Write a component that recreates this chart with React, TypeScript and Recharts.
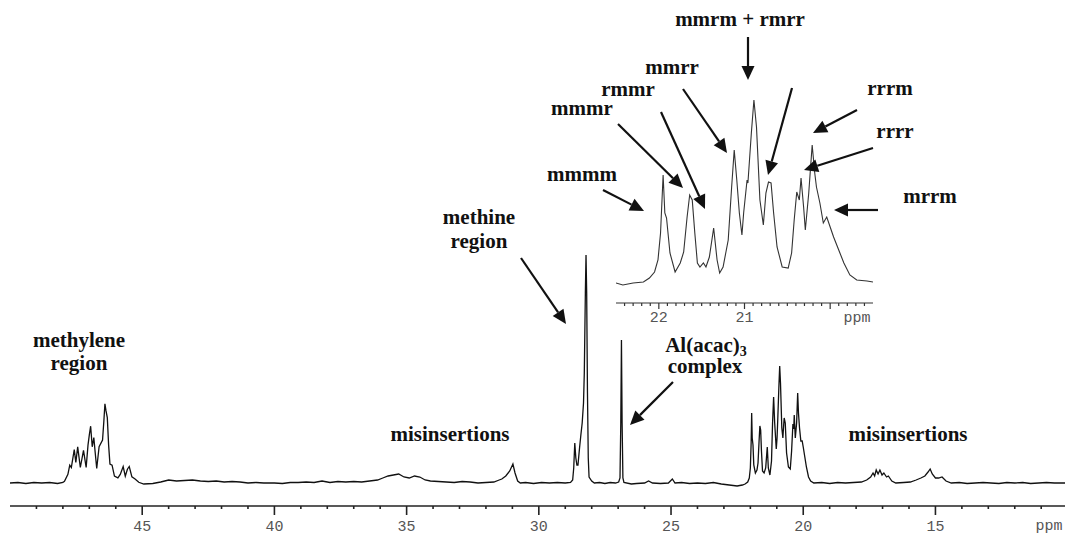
import React from "react"
import { LineChart, Line, XAxis, YAxis } from "recharts"

type Pt = [number, number]

// main spectrum, [ppm, intensity above baseline]
const baselineLeft: Pt[] = [
  [50.0, 0], [49.7, 0.5], [49.4, -0.5], [49.1, 0.5], [48.8, 0], [48.5, 0.5], [48.2, -0.5], [48.0, 0.5],
]
const methyleneRegion: Pt[] = [
  [47.94, 1.7], [47.81, 8.6], [47.74, 17.9], [47.68, 15.5], [47.57, 33.4], [47.51, 20.7], [47.44, 36.2],
  [47.34, 15.5], [47.22, 32.7], [47.12, 15.5], [47.05, 37.9], [47.0, 48.2], [46.95, 56.8], [46.89, 36.2],
  [46.83, 45.5], [46.78, 31], [46.72, 14.5], [46.63, 36.2], [46.5, 43], [46.45, 62], [46.41, 79.2],
  [46.37, 72.3], [46.32, 65.4], [46.27, 37.9], [46.22, 19], [46.14, 17.9], [46.05, 6.9], [45.92, 5.2],
  [45.83, 8.6], [45.72, 16.5], [45.64, 6.9], [45.56, 13.8], [45.49, 16.5], [45.39, 6.2], [45.27, 4.1],
  [45.13, 0.7], [44.94, -1],
]
const baselineMid: Pt[] = [
  [44.6, -0.5], [44.3, 1], [44.0, 3], [43.7, 2], [43.4, 2.5], [43.1, 3], [42.8, 2], [42.5, 1.5], [42.2, 2],
  [41.9, 1], [41.6, 1.5], [41.3, 1], [41.0, 0], [40.7, 0.5], [40.4, 0], [40.0, 0], [39.7, -0.5], [39.4, 0.5],
  [39.1, 0.5], [38.8, 1], [38.5, 0.5], [38.2, 2], [37.9, 0.5], [37.6, 1.5], [37.3, 1], [37.0, 1.5], [36.7, 1],
  [36.4, 2], [36.1, 3], [35.9, 5], [35.7, 7], [35.5, 8], [35.3, 9], [35.1, 6], [34.9, 5], [34.7, 7], [34.5, 6],
  [34.3, 3], [34.1, 2], [33.8, 1.5], [33.5, 1], [33.2, 0.5], [32.9, 1.5], [32.6, 1], [32.3, 0], [32.0, 0.5],
  [31.7, 1], [31.5, 3],
]
const misinsertionsLeft: Pt[] = [
  [31.4, 4], [31.25, 7], [31.1, 12], [30.98, 19], [30.9, 10], [30.8, 2], [30.7, 0], [30.5, 0.5], [30.2, -0.5],
  [29.9, 0.5], [29.6, 0], [29.3, 0.5], [29.0, 0], [28.8, 0.5],
]
const methineRegion: Pt[] = [
  [28.72, 3], [28.68, 15], [28.64, 40], [28.6, 25], [28.56, 18], [28.52, 18], [28.46, 35], [28.41, 48],
  [28.36, 60], [28.31, 80], [28.28, 110], [28.24, 190], [28.215, 228], [28.19, 190], [28.16, 90], [28.13, 25],
  [28.1, 6], [28.0, 2], [27.9, 0], [27.7, 0.5], [27.5, -0.5], [27.3, 0.5], [27.1, 0], [26.98, 1],
]
const alAcacPeak: Pt[] = [
  [26.93, 5], [26.9, 60], [26.875, 143], [26.85, 60], [26.82, 5], [26.78, 0.5], [26.5, -1], [26.3, -0.5],
  [26.0, 0], [25.85, 2], [25.7, 0], [25.4, -0.5], [25.1, 0], [24.95, 4], [24.85, 0], [24.6, 0.5], [24.3, -0.5],
  [24.0, 0], [23.7, -0.5], [23.4, 0.5], [23.1, -1], [22.8, -2], [22.5, -3], [22.3, -2],
]
const methylRegion: Pt[] = [
  [22.2, -1], [22.1, 1], [22.04, 5], [22.0, 15], [21.97, 40], [21.95, 70], [21.93, 45], [21.9, 38], [21.87, 18],
  [21.81, 10], [21.75, 13], [21.71, 20], [21.67, 42], [21.64, 57], [21.61, 53], [21.58, 32], [21.54, 12],
  [21.48, 10], [21.42, 15], [21.36, 36], [21.32, 15], [21.26, 8], [21.2, 22], [21.16, 60], [21.12, 86],
  [21.08, 60], [21.02, 34], [20.99, 45], [20.96, 66], [20.92, 97], [20.89, 117], [20.86, 100], [20.81, 55],
  [20.77, 45], [20.74, 58], [20.72, 65], [20.68, 60], [20.63, 30], [20.56, 16], [20.49, 14], [20.44, 32],
  [20.39, 59], [20.36, 54], [20.34, 68], [20.3, 45], [20.25, 60], [20.21, 90], [20.18, 70], [20.14, 55],
  [20.09, 42], [20.04, 42], [20.0, 36], [19.94, 26], [19.88, 16], [19.8, 6], [19.72, 2], [19.6, 0],
]
const misinsertionsRight: Pt[] = [
  [19.3, 0.5], [19.0, -0.5], [18.7, 0.5], [18.4, 0], [18.1, 0.5], [17.8, 1], [17.6, 3], [17.45, 6],
  [17.36, 10], [17.3, 7], [17.24, 13], [17.17, 9], [17.1, 13], [17.02, 8], [16.95, 10], [16.85, 6],
  [16.78, 7], [16.65, 2], [16.5, 0], [16.2, 0.5], [15.95, 1], [15.73, 3], [15.55, 5], [15.4, 7], [15.28, 11],
  [15.2, 14], [15.12, 9], [15.0, 5], [14.88, 5], [14.75, 6], [14.6, 2], [14.4, 0],
]
const baselineRight: Pt[] = [
  [14.1, 0.5], [13.8, -0.5], [13.5, 0], [13.2, 0.5], [12.9, 0], [12.6, -0.5], [12.3, 0.5], [12.0, 0],
  [11.7, 0.5], [11.4, -0.5], [11.1, 0], [10.8, 0.5], [10.5, 0], [10.1, 0],
]

// inset: methyl pentads, expanded
const insetMethyl: Pt[] = [
  [22.5, 0], [22.42, -2], [22.3, 0], [22.18, 1], [22.11, 5], [22.05, 11], [22.01, 23], [21.98, 50],
  [21.95, 108], [21.93, 70], [21.91, 65], [21.87, 30], [21.81, 11], [21.75, 20], [21.71, 31], [21.67, 66],
  [21.64, 88], [21.61, 83], [21.58, 50], [21.55, 20], [21.52, 16], [21.48, 20], [21.45, 16], [21.41, 26],
  [21.36, 55], [21.32, 23], [21.29, 10], [21.25, 16], [21.19, 43], [21.15, 96], [21.12, 133], [21.09, 103],
  [21.06, 70], [21.03, 48], [21.01, 70], [20.97, 103], [20.96, 100], [20.92, 150], [20.89, 183], [20.86, 156],
  [20.82, 83], [20.78, 58], [20.75, 90], [20.72, 101], [20.69, 100], [20.66, 70], [20.62, 36], [20.56, 16],
  [20.49, 15], [20.45, 30], [20.42, 63], [20.39, 91], [20.36, 83], [20.34, 105], [20.31, 76], [20.29, 53],
  [20.25, 90], [20.21, 138], [20.18, 110], [20.16, 96], [20.12, 80], [20.08, 60], [20.04, 66], [20.0, 56],
  [19.96, 46], [19.9, 33], [19.84, 20], [19.77, 8], [19.69, 3], [19.57, 2], [19.5, 1],
]

const mainMajorTicks = [45, 40, 35, 30, 25, 20, 15]
const mainMinorTicks = [
  49, 48, 47, 46, 44, 43, 42, 41, 39, 38, 37, 36, 34, 33, 32, 31, 29, 28, 27, 26, 24, 23, 22, 21, 19, 18, 17, 16,
  14, 13, 12, 11,
]
const insetMajorTicks = [22, 21, 20]
const insetLabels = ["22", "21", ""]

const mainData = [
  ...baselineLeft, ...methyleneRegion, ...baselineMid, ...misinsertionsLeft, ...methineRegion,
  ...alAcacPeak, ...methylRegion, ...misinsertionsRight, ...baselineRight,
].map(([ppm, v]) => ({ ppm, v }))
const insetData = insetMethyl.map(([ppm, v]) => ({ ppm, v }))

const insetTicks: number[] = []
for (let i = 0; i < 29; i++) insetTicks.push(Math.round((19.6 + i * 0.1) * 10) / 10)

const tickFont = { fontFamily: "'Liberation Mono', 'DejaVu Sans Mono', monospace", fontSize: 15, fill: "#555" }
const labelFont = { fontFamily: "'Liberation Serif', 'Times New Roman', serif", fontSize: 21, fontWeight: 700, fill: "#111" }

const MainTick = (props: any) => {
  const { x, y, payload } = props
  const major = mainMajorTicks.includes(payload.value)
  return (
    <g>
      <line x1={x} x2={x} y1={y} y2={y + (major ? 9 : 3)} stroke="#222" strokeWidth={1.6} />
      {major && (
        <text x={x} y={y + 25} textAnchor="middle" {...tickFont}>
          {payload.value}
        </text>
      )}
    </g>
  )
}

const InsetTick = (props: any) => {
  const { x, y, payload } = props
  const idx = insetMajorTicks.findIndex((t) => Math.abs(t - payload.value) < 1e-6)
  return (
    <g>
      <line x1={x} x2={x} y1={y} y2={y + (idx >= 0 ? 6 : 3)} stroke="#333" strokeWidth={1.2} />
      {idx >= 0 && insetLabels[idx] && (
        <text x={x} y={y + 19} textAnchor="middle" {...tickFont}>
          {insetLabels[idx]}
        </text>
      )}
    </g>
  )
}

const arrows: [number, number, number, number][] = [
  [521, 258, 566, 324],
  [673, 382, 630, 425],
  [748, 37, 748, 80],
  [792, 88, 768, 175],
  [683, 89, 727, 153],
  [661, 112, 705, 209],
  [618, 124, 683, 188],
  [603, 190, 644, 211],
  [857, 110, 813, 133],
  [873, 148, 804, 170],
  [878, 210, 834, 210],
]

const labels: [string, number, number][] = [
  ["methylene", 79, 347],
  ["region", 79, 370],
  ["methine", 479, 224],
  ["region", 479, 248],
  ["misinsertions", 450, 441],
  ["misinsertions", 908, 441],
  ["complex", 705, 373],
  ["mmrm + rmrr", 740, 26],
  ["mmrr", 672, 74],
  ["rmmr", 628, 96],
  ["mmmr", 582, 115],
  ["mmmm", 582, 181],
  ["rrrm", 890, 95],
  ["rrrr", 895, 138],
  ["mrrm", 930, 203],
]

const Arrow = ({ a }: { a: [number, number, number, number] }) => {
  const [x1, y1, x2, y2] = a
  const dx = x2 - x1
  const dy = y2 - y1
  const len = Math.hypot(dx, dy)
  const ux = dx / len
  const uy = dy / len
  const hl = 14
  const hw = 6.5
  const bx = x2 - ux * hl
  const by = y2 - uy * hl
  return (
    <g>
      <line x1={x1} y1={y1} x2={bx} y2={by} stroke="#111" strokeWidth={2.2} />
      <polygon
        points={`${x2},${y2} ${bx - uy * hw},${by + ux * hw} ${bx + uy * hw},${by - ux * hw}`}
        fill="#111"
      />
    </g>
  )
}

export default function App() {
  return (
    <div style={{ position: "absolute", left: 0, top: 0, width: 1069, height: 534, background: "#fff" }}>
      <LineChart width={1069} height={534} data={mainData} margin={{ top: 20, right: 4, bottom: 0, left: 10 }}>
        <XAxis
          dataKey="ppm"
          type="number"
          domain={[10.1, 50]}
          reversed
          allowDataOverflow
          ticks={[...mainMajorTicks, ...mainMinorTicks].sort((a, b) => a - b)}
          interval={0}
          tickSize={0}
          tickMargin={0}
          tickLine={false}
          tick={<MainTick />}
          height={28}
          stroke="#222"
          strokeWidth={1.6}
        />
        <YAxis hide type="number" domain={[-23, 463]} allowDataOverflow />
        <Line type="linear" dataKey="v" stroke="#111" strokeWidth={1.3} dot={false} isAnimationActive={false} />
      </LineChart>

      <div style={{ position: "absolute", left: 600, top: 80 }}>
        <LineChart width={300} height={250} data={insetData} margin={{ top: 10, right: 27, bottom: 0, left: 16 }}>
          <XAxis
            dataKey="ppm"
            type="number"
            domain={[19.5, 22.5]}
            reversed
            allowDataOverflow
            ticks={insetTicks}
            interval={0}
            tickSize={0}
            tickMargin={0}
            tickLine={false}
            tick={<InsetTick />}
            height={27}
            stroke="#333"
            strokeWidth={1.2}
          />
          <YAxis hide type="number" domain={[-20, 193]} allowDataOverflow />
          <Line type="linear" dataKey="v" stroke="#333" strokeWidth={1.1} dot={false} isAnimationActive={false} />
        </LineChart>
      </div>

      <svg
        width={1069}
        height={534}
        style={{ position: "absolute", left: 0, top: 0, pointerEvents: "none", overflow: "visible" }}
      >
        {arrows.map((a, i) => (
          <Arrow key={i} a={a} />
        ))}
        {labels.map(([t, x, y], i) => (
          <text key={i} x={x} y={y} textAnchor="middle" {...labelFont}>
            {t}
          </text>
        ))}
        <text x={706} y={352} textAnchor="middle" {...labelFont}>
          Al(acac)
          <tspan fontSize={14} dy={4}>
            3
          </tspan>
        </text>
        <text x={1049} y={530} textAnchor="middle" {...tickFont}>
          ppm
        </text>
        <text x={857} y={322} textAnchor="middle" {...tickFont}>
          ppm
        </text>
      </svg>
    </div>
  )
}
